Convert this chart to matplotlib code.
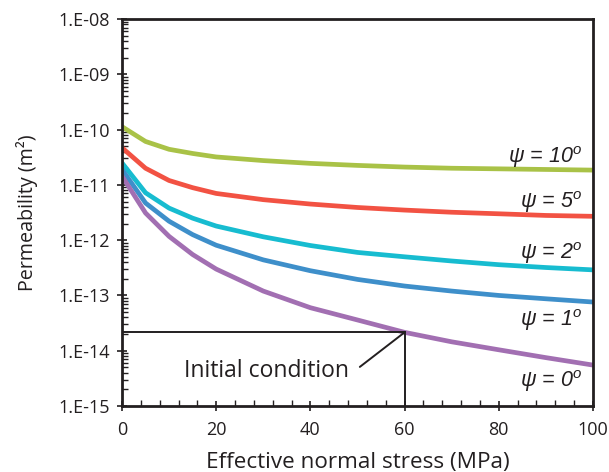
import matplotlib.pyplot as plt
from matplotlib.ticker import FixedLocator, LogLocator, NullFormatter

# effective normal stress (MPa)
stress = [0, 5, 10, 15, 20, 30, 40, 50, 60, 70, 80, 90, 100]

# permeability (m^2) for each dilation angle
perm_psi10 = [1.13e-10, 6.1e-11, 4.4e-11, 3.7e-11, 3.2e-11, 2.75e-11, 2.45e-11,
              2.25e-11, 2.1e-11, 2.0e-11, 1.95e-11, 1.9e-11, 1.85e-11]
perm_psi5 = [4.7e-11, 2.0e-11, 1.2e-11, 8.9e-12, 7.0e-12, 5.4e-12, 4.5e-12,
             3.9e-12, 3.5e-12, 3.2e-12, 3.0e-12, 2.8e-12, 2.7e-12]
perm_psi2 = [2.5e-11, 7.2e-12, 3.8e-12, 2.5e-12, 1.8e-12, 1.15e-12, 8.0e-13,
             6.0e-13, 5.0e-13, 4.2e-13, 3.6e-13, 3.2e-13, 2.9e-13]
perm_psi1 = [1.9e-11, 4.7e-12, 2.2e-12, 1.26e-12, 8.1e-13, 4.4e-13, 2.8e-13,
             1.95e-13, 1.48e-13, 1.2e-13, 1.0e-13, 8.7e-14, 7.6e-14]
perm_psi0 = [1.44e-11, 3.1e-12, 1.17e-12, 5.5e-13, 3.0e-13, 1.2e-13, 6.0e-14,
             3.6e-14, 2.15e-14, 1.45e-14, 1.04e-14, 7.5e-15, 5.5e-15]

curve_labels = ['ψ = 10$^o$', 'ψ = 5$^o$', 'ψ = 2$^o$', 'ψ = 1$^o$', 'ψ = 0$^o$']
label_y = [3.2e-11, 4.9e-12, 5.9e-13, 3.6e-14, 2.8e-15]

# initial condition marker
init_stress = 60
init_perm = 2.15e-14

y_ticks = [1e-15, 1e-14, 1e-13, 1e-12, 1e-11, 1e-10, 1e-9, 1e-8]
y_tick_labels = ['1.E-15', '1.E-14', '1.E-13', '1.E-12', '1.E-11', '1.E-10', '1.E-09', '1.E-08']

colors = ['#a9c247', '#f25243', '#17bcd0', '#3e8fca', '#a26fb2']
ink = '#231f20'

plt.rcParams['font.family'] = ['Open Sans', 'DejaVu Sans']
plt.rcParams['mathtext.fontset'] = 'custom'
plt.rcParams['mathtext.it'] = 'Liberation Sans:italic'
plt.rcParams['mathtext.rm'] = 'Liberation Sans:italic'

fig = plt.figure(figsize=(6.09, 4.72), dpi=100)
ax = fig.add_axes([0.2003, 0.1398, 0.7734, 0.8199])

series = [perm_psi10, perm_psi5, perm_psi2, perm_psi1, perm_psi0]
for perm, c in zip(series, colors):
    ax.plot(stress, perm, color=c, lw=3.4, solid_joinstyle='round')

for lab, yy in zip(curve_labels, label_y):
    ax.text(97.7, yy, lab, ha='right', va='center', fontsize=15.5, style='italic',
            family=['Liberation Sans', 'DejaVu Sans'], color=ink)

# initial condition guide lines
ax.plot([0, init_stress], [init_perm, init_perm], color=ink, lw=1.4)
ax.plot([init_stress, init_stress], [1e-15, init_perm], color=ink, lw=1.4)
ax.annotate('', xy=(init_stress, init_perm), xytext=(50.5, 5.1e-15),
            arrowprops=dict(arrowstyle='-', color=ink, lw=1.4, shrinkA=0, shrinkB=0))
ax.text(30.7, 4.3e-15, 'Initial condition', ha='center', va='center', fontsize=16.5,
        color=ink)

ax.set_yscale('log')
ax.set_xlim(0, 100)
ax.set_ylim(1e-15, 1e-8)
ax.set_yticks(y_ticks)
ax.set_yticklabels(y_tick_labels)
ax.yaxis.set_minor_locator(LogLocator(base=10, subs=range(2, 10), numticks=20))
ax.yaxis.set_minor_formatter(NullFormatter())
ax.set_xticks(range(0, 101, 20))
ax.xaxis.set_minor_locator(FixedLocator(range(0, 101, 4)))

ax.tick_params(axis='both', which='major', direction='inout', length=7, width=1.2,
               labelsize=13, colors=ink, pad=5)
ax.tick_params(axis='x', which='major', pad=7)
ax.tick_params(axis='both', which='minor', direction='in', length=4, width=1.0,
               colors=ink)

for sp in ax.spines.values():
    sp.set_linewidth(2)
    sp.set_color(ink)

ax.set_xlabel('Effective normal stress (MPa)', fontsize=16.2, color=ink, labelpad=10)
ax.set_ylabel('Permeability (m²)', fontsize=14.2, color=ink, labelpad=15)

fig.savefig('out.png', dpi=100)
